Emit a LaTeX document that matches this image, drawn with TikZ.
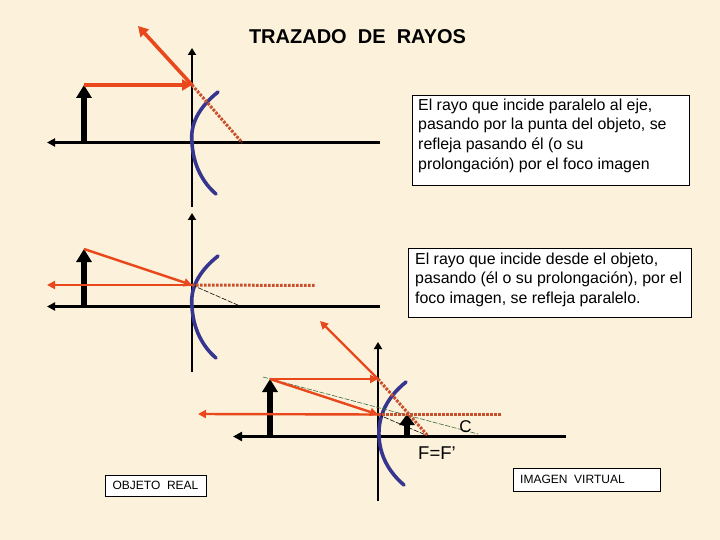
\documentclass[tikz,border=0pt]{standalone}
\usepackage{fontspec}
\setmainfont{Liberation Sans}
\usetikzlibrary{arrows.meta}
\definecolor{bgc}{HTML}{FCF1DA}
\definecolor{rayc}{HTML}{E8481C}
\definecolor{dotc}{HTML}{C8502C}
\definecolor{mirc}{HTML}{36358F}
\definecolor{dashg}{HTML}{3E6B3E}
\tikzset{
 x=1pt,y=-1pt,
 axisline/.style={draw=black,line width=2.2pt,-{Triangle[length=8pt,width=8pt]}},
 axisthick/.style={draw=black,line width=2.8pt,-{Triangle[length=9pt,width=9pt]}},
 vertline/.style={draw=black,line width=1.7pt,-{Triangle[length=7pt,width=8pt]}},
 objarrow/.style={draw=black,line width=6pt,-{Triangle[length=13pt,width=15pt]}},
 rayline/.style={draw=rayc,line width=3.6pt,-{Triangle[length=10pt,width=11pt]}},
 raythin/.style={draw=rayc,line width=2.4pt,-{Triangle[length=8pt,width=8pt]}},
 dotline/.style={draw=dotc,line width=3pt,dash pattern=on 2.6pt off 1.4pt},
 thindash/.style={draw=black,line width=0.6pt,dash pattern=on 5pt off 1.5pt},
 greendash/.style={draw=dashg,line width=0.6pt,dash pattern=on 5pt off 1.5pt},
 mirror/.style={draw=mirc,line width=3.6pt,line cap=round},
 infobox/.style={draw=black,line width=0.8pt,fill=white,anchor=north west,inner sep=0pt},
 boxtext/.style={font=\fontsize{15.9}{19.6}\selectfont,align=left,anchor=north west,inner sep=0pt},
 smalltext/.style={font=\fontsize{12}{14}\selectfont,inner sep=0pt},
 plain/.style={inner sep=0pt,outer sep=0pt}
}
\begin{document}
\begin{tikzpicture}
\useasboundingbox (0,0) rectangle (720,540);
\fill[bgc] (0,0) rectangle (720,540);

% Title
\node[plain,font=\fontsize{20}{22}\selectfont\bfseries,anchor=west] (title) at (249,37) {TRAZADO\ \ DE\ \ RAYOS};

% Diagram 1
\coordinate (a1l) at (47,142.5); \coordinate (a1r) at (380,142.5);
\coordinate (v1b) at (192,207); \coordinate (v1t) at (192,48);
\coordinate (o1b) at (84,142.5); \coordinate (o1t) at (84,85);
\coordinate (h1) at (192,85); \coordinate (r1) at (138,26); \coordinate (f1) at (242,142.5);
\draw[axisline] (a1r) -- (a1l);
\draw[vertline] (v1b) -- (v1t);
\draw[mirror] (218,92) .. controls (198,108) and (190,125) .. (192,142.5) .. controls (193,165) and (203,183) .. (216,194);
\draw[objarrow] (o1b) -- (o1t);
\draw[rayline] (o1t) -- (h1);
\draw[rayline] (h1) -- (r1);
\draw[dotline] (h1) -- (f1);

% Diagram 2
\coordinate (a2l) at (47,306.5); \coordinate (a2r) at (380,306.5);
\coordinate (v2b) at (192,372); \coordinate (v2t) at (192,213);
\coordinate (o2b) at (84,306.5); \coordinate (o2t) at (84,249);
\coordinate (h2) at (192,285); \coordinate (e2) at (47,285); \coordinate (d2) at (315,285.5); \coordinate (f2) at (240,306);
\draw[axisline] (a2r) -- (a2l);
\draw[vertline] (v2b) -- (v2t);
\draw[mirror] (218,256) .. controls (198,272) and (190,289) .. (192,306.5) .. controls (193,329) and (203,347) .. (216,358);
\draw[objarrow] (o2b) -- (o2t);
\draw[thindash] (h2) -- (f2);
\draw[raythin] (o2t) -- (h2);
\draw[raythin] (h2) -- (e2);
\draw[dotline] (h2) -- (d2);

% Diagram 3
\coordinate (a3l) at (233,436.5); \coordinate (a3r) at (566,436.5);
\coordinate (v3b) at (378,501); \coordinate (v3t) at (378,342);
\coordinate (o3b) at (270,436.5); \coordinate (o3t) at (270,379);
\coordinate (h3) at (378,379); \coordinate (r3) at (320,321); \coordinate (f3) at (428,436);
\coordinate (k3) at (378,414.5); \coordinate (e3) at (198,414); \coordinate (d3) at (501,414.5);
\coordinate (gs) at (263,377); \coordinate (ge) at (478,434);
\coordinate (i3b) at (407,436.5); \coordinate (i3t) at (407,414);
\draw[axisthick] (a3r) -- (a3l);
\draw[vertline] (v3b) -- (v3t);
\draw[mirror] (406,382) .. controls (386,398) and (378,417) .. (379,436.5) .. controls (380,458) and (391,474) .. (404,485);
\draw[objarrow] (o3b) -- (o3t);
\draw[objarrow,-{Triangle[length=11pt,width=15pt]}] (i3b) -- (i3t);
\draw[greendash] (gs) -- (ge);
\draw[thindash] (k3) -- (f3);
\draw[raythin] (o3t) -- (h3);
\draw[raythin] (h3) -- (r3);
\draw[raythin] (o3t) -- (k3);
\draw[raythin] (k3) -- (e3);
\draw[dotline] (h3) -- (f3);
\draw[dotline] (k3) -- (d3);
\node[plain,font=\fontsize{17}{19}\selectfont] (clabel) at (465.5,427) {C};
\node[plain,font=\fontsize{18.5}{20}\selectfont] (flabel) at (437,453.5) {F=F’};

% Boxes
\node[infobox,minimum width=277pt,minimum height=90pt] (b1) at (412,95) {};
\node[boxtext] (t1) at (418,98.5) {El rayo que incide paralelo al eje,\\pasando por la punta del objeto, se\\refleja pasando él (o su\\prolongación) por el foco imagen};
\node[infobox,minimum width=283pt,minimum height=69pt] (b2) at (408,247.5) {};
\node[boxtext] (t2) at (415,252.5) {El rayo que incide desde el objeto,\\pasando (él o su prolongación), por el\\foco imagen, se refleja paralelo.};
\node[infobox,minimum width=101pt,minimum height=21pt] (b3) at (105,475) {};
\node[smalltext] (t3) at (155.5,485) {OBJETO\ \ REAL};
\node[infobox,minimum width=147pt,minimum height=23pt] (b4) at (513,468) {};
\node[smalltext,anchor=west] (t4) at (520,479.5) {IMAGEN\ \ VIRTUAL};
\end{tikzpicture}
\end{document}
